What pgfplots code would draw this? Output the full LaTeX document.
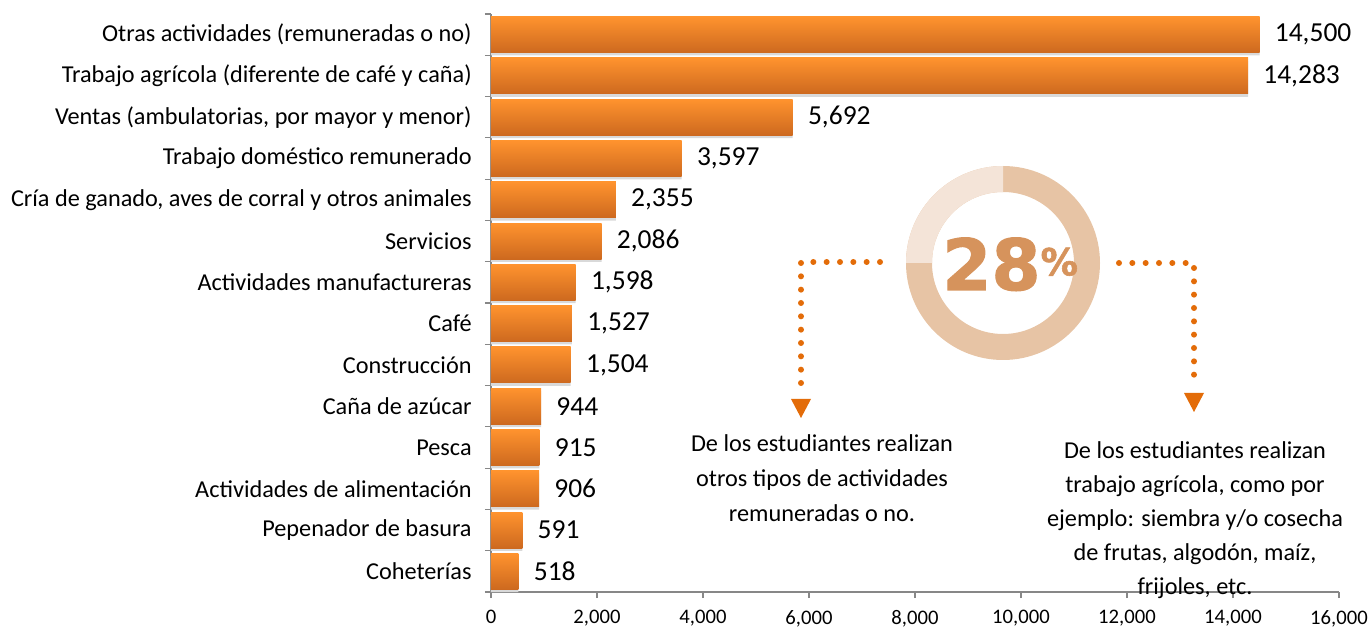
\documentclass[border=0pt]{standalone}
\usepackage{pgfplots}
\pgfplotsset{compat=1.18}
\usepackage{pgfplotstable}
\usepackage{fontspec}
\setmainfont{Carlito}
\newfontfamily\bigfont{DejaVu Sans Bold}[FakeBold=1.5]
\definecolor{barTop}{HTML}{FF932E}
\definecolor{barBot}{HTML}{CD691F}
\definecolor{axisgray}{HTML}{878787}
\definecolor{ringDark}{HTML}{E7C4A5}
\definecolor{ringLight}{HTML}{F4E4D8}
\definecolor{pctcol}{HTML}{D6935C}
\definecolor{arrowcol}{HTML}{E36C09}
\pgfplotsset{/pgf/number format/1000 sep={,}}

\pgfplotstableread{
idx val
13 14500
12 14283
11 5692
10 3597
9 2355
8 2086
7 1598
6 1527
5 1504
4 944
3 915
2 906
1 591
0 518
}\datatable

\begin{document}
\begin{tikzpicture}
\begin{axis}[
  at={(0,0)}, anchor=south west,
  scale only axis, width=636pt, height=433.5pt,
  xmin=0, xmax=16000, ymin=-0.5, ymax=13.5,
  axis x line*=bottom, axis y line*=left,
  axis line style={axisgray, line width=0.8pt},
  xtick={0,2000,...,16000},
  scaled x ticks=false,
  xtick align=outside,
  major tick length=4.5pt,
  tick style={axisgray, line width=0.8pt},
  xticklabel style={font=\fontsize{15.5}{18}\selectfont, yshift=-5.5pt},
  /pgf/number format/assume math mode=true,
  ytick={-0.5,0.5,...,13.5},
  yticklabels={},
  ytick align=outside,
  extra y ticks={0,1,...,13},
  extra y tick labels={Coheterías,Pepenador de basura,Actividades de alimentación,Pesca,Caña de azúcar,Construcción,Café,Actividades manufactureras,Servicios,{Cría de ganado, aves de corral y otros animales},Trabajo doméstico remunerado,{Ventas (ambulatorias, por mayor y menor)},{Trabajo agrícola (diferente de café y caña)},Otras actividades (remuneradas o no)},
  extra y tick style={major tick length=0pt, yticklabel style={font=\fontsize{18.2}{21}\selectfont, xshift=-11pt}},
  clip=false,
]
\addplot[xbar, bar width=0.87, bar shift=-0.07, fill=black!15, draw=none]
  table[x=val, y=idx]{\datatable};
\pgfplotsinvokeforeach{0,...,13}{
\addplot[xbar, bar width=0.87, bar shift=0, draw=none, top color=barTop, bottom color=barBot,
  y filter/.expression={abs(y-#1)<0.1 ? y : nan},
  point meta=x, nodes near coords,
  every node near coord/.append style={font=\fontsize{20.6}{24}\selectfont, anchor=west, xshift=8pt, text=black}]
  table[x=val, y=idx]{\datatable};
}
\end{axis}
\begin{scope}[shift={(-368.25pt,444pt)}, x=0.75pt, y=-0.75pt]
  \coordinate (c) at (1003,263);
  \fill[ringDark, even odd rule] (c) circle[radius=72.75pt] (c) circle[radius=53.25pt];
  \fill[ringLight] (c) ++(0pt,72.75pt) arc[start angle=90, end angle=180, radius=72.75pt]
     -- ++(19.5pt,0pt) arc[start angle=180, end angle=90, radius=53.25pt] -- cycle;
  \node[pctcol, anchor=base west, inner sep=0pt, font=\bigfont\fontsize{53}{53}\selectfont]
     at (942,290) {28\raisebox{11pt}{\fontsize{28}{28}\selectfont\%}};
  \draw[arrowcol, line width=4.5pt, line cap=round, dash pattern=on 0pt off 10pt]
     (880,262) -- (801,262) -- (801,388);
  \fill[arrowcol] (791,399) -- (811,399) -- (801,418) -- cycle;
  \draw[arrowcol, line width=4.5pt, line cap=round, dash pattern=on 0pt off 10pt]
     (1119,263) -- (1194,263) -- (1194,387);
  \fill[arrowcol] (1184,393) -- (1204,393) -- (1194,412) -- cycle;
  \node[anchor=north, align=center, inner sep=0pt, font=\fontsize{18.2}{26.25}\selectfont]
     at (822,434) {De los estudiantes realizan\\otros tipos de actividades\\remuneradas o no.};
  \node[anchor=north, align=center, inner sep=0pt, font=\fontsize{18.2}{25.5}\selectfont]
     at (1195,441) {De los estudiantes realizan\\trabajo agrícola, como por\\ejemplo: siembra y/o cosecha\\de frutas, algodón, maíz,\\frijoles, etc.};
  \pgfresetboundingbox
  \path[use as bounding box] (0,0) rectangle (1370,628);
\end{scope}
\end{tikzpicture}
\end{document}
